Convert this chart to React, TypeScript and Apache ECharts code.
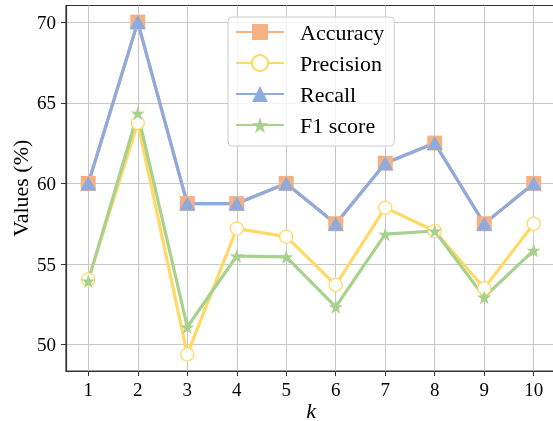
import React, { useEffect, useRef } from "react";
import * as echarts from "echarts";

const kValues = [1, 2, 3, 4, 5, 6, 7, 8, 9, 10];
const accuracy = [60, 70, 58.75, 58.75, 60, 57.5, 61.25, 62.5, 57.5, 60];
const precision = [54.05, 63.75, 49.4, 57.2, 56.7, 53.7, 58.5, 57.05, 53.5, 57.5];
const recall = [60, 70, 58.75, 58.75, 60, 57.5, 61.25, 62.5, 57.5, 60];
const f1 = [53.95, 64.35, 51.1, 55.5, 55.45, 52.35, 56.85, 57.05, 52.95, 55.85];
const yTicks = [50, 55, 60, 65, 70];

const STAR = "path://M50,0 L61.8,35.1 L97.6,34.5 L69,56.7 L79.4,90.5 L50,70 L20.6,90.5 L31,56.7 L2.4,34.5 L38.2,35.1 Z";
const FONT = "Liberation Serif";

const pairs = (ys: number[]) => kValues.map((k, i) => [k, ys[i]]);

export default function App() {
  const ref = useRef<HTMLDivElement>(null);
  useEffect(() => {
    if (!ref.current) return;
    const chart = echarts.init(ref.current, undefined, { renderer: "svg" });
    const mk = (name: string, data: number[], color: string, symbol: string, size: any, fill: string) => ({
      name,
      type: "line",
      data: pairs(data),
      symbol,
      symbolSize: size,
      showSymbol: true,
      lineStyle: { color, width: 3.2 },
      itemStyle: { color: fill, borderColor: color, borderWidth: fill === "#ffffff" ? 1.3 : 0 },
      emphasis: { disabled: true },
    });
    chart.setOption({
      animation: false,
      textStyle: { fontFamily: FONT },
      grid: {
        left: 66, top: 5.5, width: 490, height: 365.5,
        outerBoundsMode: "none", containLabel: false,
        show: true, borderColor: "#333", borderWidth: 1.2, backgroundColor: "transparent",
      },
      legend: {
        orient: "vertical",
        left: 228,
        top: 17,
        padding: [4, 10, 10, 7],
        itemWidth: 48,
        itemHeight: 20,
        itemGap: 9,
        backgroundColor: "rgba(255,255,255,0.8)",
        borderColor: "#cccccc",
        borderWidth: 1,
        borderRadius: 4,
        textStyle: { fontFamily: FONT, fontSize: 22, color: "#000", lineHeight: 20, padding: [0, 0, 0, 11] },
        data: ["Accuracy", "Precision", "Recall", "F1 score"],
      },
      xAxis: {
        type: "value",
        min: 0.55,
        max: 10.45,
        name: "k",
        nameLocation: "middle",
        nameGap: 28,
        nameMoveOverlap: false,
        nameTextStyle: { fontFamily: FONT, fontSize: 22, fontStyle: "italic", color: "#000", lineHeight: 22 },
        axisLine: { show: true, lineStyle: { color: "#333", width: 1.2 } },
        axisTick: { show: true, length: 5, lineStyle: { color: "#333" }, customValues: kValues },
        axisLabel: { customValues: kValues, fontFamily: FONT, fontSize: 19, color: "#000", margin: 9 },
        splitLine: { show: true, lineStyle: { color: "#c8c8c8", width: 1 } },
      },
      yAxis: {
        type: "value",
        min: 48.37,
        max: 71.03,
        name: "Values (%)",
        nameLocation: "middle",
        nameGap: 35,
        nameMoveOverlap: false,
        nameTextStyle: { fontFamily: FONT, fontSize: 22, color: "#000" },
        axisLine: { show: true, lineStyle: { color: "#333", width: 1.2 } },
        axisTick: { show: true, length: 5, lineStyle: { color: "#333" }, customValues: yTicks },
        axisLabel: { customValues: yTicks, fontFamily: FONT, fontSize: 19, color: "#000", margin: 10 },
        splitLine: { show: true, lineStyle: { color: "#c8c8c8", width: 1 } },
      },
      series: [
        mk("Accuracy", accuracy, "#F4B183", "rect", 15, "#F4B183"),
        mk("Precision", precision, "#FFD966", "circle", 13, "#ffffff"),
        mk("Recall", recall, "#8FAADC", "triangle", [16, 14], "#8FAADC"),
        mk("F1 score", f1, "#A9D18E", STAR, 14, "#A9D18E"),
      ],
    });
    return () => chart.dispose();
  }, []);
  return <div ref={ref} style={{ position: "fixed", left: 0, top: 0, width: 553, height: 421 }} />;
}
